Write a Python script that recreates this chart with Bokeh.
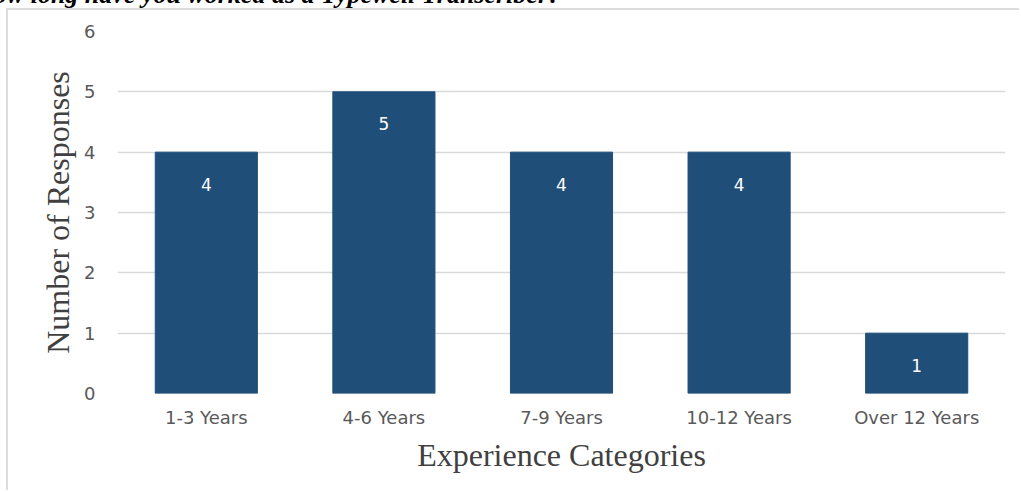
from bokeh.plotting import figure
from bokeh.models import ColumnDataSource, FixedTicker, Range1d, FactorRange, Div
from bokeh.layouts import column
from bokeh.embed import file_html
from bokeh.resources import INLINE
from bokeh.core.properties import value

categories = ["1-3 Years", "4-6 Years", "7-9 Years", "10-12 Years", "Over 12 Years"]
responses = [4, 5, 4, 4, 1]
y_ticks = [0, 1, 2, 3, 4, 5, 6]

title_text = "How long have you worked as a Typewell Transcriber?"
x_title = "Experience Categories"
y_title = "Number of Responses"

BAR = "#1F4E79"
GRID = "#D9D9D9"
TICK = "#595959"

src = ColumnDataSource(dict(cat=categories, val=responses, lab=[str(v) for v in responses]))

p = figure(width=1013, height=482, x_range=FactorRange(*categories, range_padding=0),
           y_range=Range1d(0, 6), output_backend="svg", toolbar_location=None,
           min_border_left=109, min_border_right=16, min_border_top=21, min_border_bottom=99,
           margin=0,
           styles={"border-top": "2px solid #dcdcdc", "border-left": "2px solid #dcdcdc",
                   "margin-left": "6px"})
p.outline_line_color = None
p.background_fill_color = "white"
p.border_fill_color = "white"

p.vbar(x="cat", top="val", width=0.575, source=src, fill_color=BAR, line_color=BAR)
p.text(x="cat", y="val", text="lab", source=src, text_color="white",
       text_font=value("DejaVu Sans"), text_font_size="17px",
       text_align="center", text_baseline="middle", y_offset=32)

p.yaxis.ticker = FixedTicker(ticks=y_ticks)
p.ygrid.ticker = FixedTicker(ticks=y_ticks)
p.ygrid.grid_line_color = GRID
p.ygrid.grid_line_width = 1.5
p.xgrid.grid_line_color = None

for ax in (p.xaxis[0], p.yaxis[0]):
    ax.axis_line_color = None
    ax.major_tick_line_color = None
    ax.minor_tick_line_color = None
    ax.major_tick_out = 0
    ax.major_tick_in = 0
    ax.major_label_text_color = TICK
    ax.major_label_text_font = "DejaVu Sans"
    ax.major_label_text_font_size = "18px"
    ax.axis_label_text_font = "Liberation Serif"
    ax.axis_label_text_font_style = "normal"
    ax.axis_label_text_color = "#404040"

p.yaxis.major_label_standoff = 22
p.xaxis.major_label_standoff = 13
p.xaxis.axis_label = x_title
p.yaxis.axis_label = y_title
p.xaxis.axis_label_text_font_size = "32px"
p.yaxis.axis_label_text_font_size = "32px"
p.xaxis.axis_label_standoff = 6
p.yaxis.axis_label_standoff = 5

title = Div(text=(
    '<div style="position:absolute; left:561px; top:-17px; '
    'transform:translateX(-100%); white-space:nowrap; font-family:\'Liberation Serif\'; '
    'font-weight:bold; font-style:italic; font-size:26px; line-height:24px; color:#000;">'
    + title_text + '</div>'), width=1021, height=8, margin=0, styles={"overflow": "visible"})

layout = column(title, p, spacing=0, margin=0)
open("out.html", "w").write(file_html(layout, INLINE))
